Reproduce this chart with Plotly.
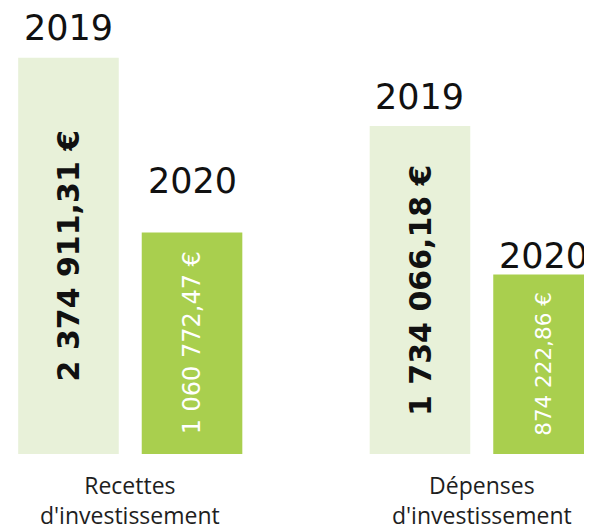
import numpy as np
import plotly.graph_objects as go

# ---- data ----
categories = ["Recettes<br>d'investissement", "Dépenses<br>d'investissement"]
years = ["2019", "2020"]
values_2019 = [2374911.31, 1734066.18]
values_2020 = [1060772.47, 874222.86]

# ---- styles ----
colors = {"2019": "#e8f1d9", "2020": "#a9cf4e"}
value_font = {
    "2019": dict(family="DejaVu Sans", size=[30, 30], color="#111111", weight="bold"),
    "2020": dict(family="DejaVu Sans", size=[24, 21.5], color="#ffffff", weight="normal"),
}
year_yshift = {("2019", 0): 8, ("2020", 0): 30, ("2019", 1): 7, ("2020", 1): -3}

# page body has an 8px margin: layout compensates
Y_RANGE = [5.5821, 6.4755]
X_RANGE = [-0.3478, 1.3364]
BARGAP = 0.297
BARGROUPGAP = 0.186
OFF = (1 - BARGAP) / 4


def fr(v):
    s = f"{v:,.2f}"
    return s.replace(",", " ").replace(".", ",") + " €"


series = {"2019": values_2019, "2020": values_2020}

fig = go.Figure()
for yr in years:
    fig.add_trace(go.Bar(
        x=categories, y=series[yr], name=yr,
        marker=dict(color=colors[yr], line=dict(width=0)),
        hoverinfo="skip",
    ))

annotations = []
for j, yr in enumerate(years):
    sign = -1 if j == 0 else 1
    for i, cat in enumerate(categories):
        v = series[yr][i]
        top = np.log10(v)
        xpos = i + sign * OFF
        annotations.append(dict(
            x=xpos, y=top, xref="x", yref="y", text=yr, showarrow=False,
            xanchor="center", yanchor="bottom", yshift=year_yshift[(yr, i)],
            font=dict(family="DejaVu Sans", size=35, color="#111111"),
        ))
        f = value_font[yr]
        annotations.append(dict(
            x=xpos, y=(Y_RANGE[0] + top) / 2, xref="x", yref="y",
            text=fr(v), showarrow=False, textangle=-90,
            xanchor="center", yanchor="middle",
            font=dict(family=f["family"], size=f["size"][i], color=f["color"],
                      weight=f["weight"]),
        ))

for i, cat in enumerate(categories):
    annotations.append(dict(
        x=i, y=0, xref="x", yref="paper", text=cat, showarrow=False,
        xanchor="center", yanchor="top", yshift=-13,
        font=dict(family="Open Sans", size=23, color="#1e1e1e"),
    ))

fig.update_layout(
    width=592, height=531,
    margin=dict(l=0, r=0, t=0, b=85),
    paper_bgcolor="white", plot_bgcolor="white",
    barmode="group", bargap=BARGAP, bargroupgap=BARGROUPGAP,
    showlegend=False,
    xaxis=dict(type="category", range=X_RANGE, visible=False),
    yaxis=dict(type="log", range=Y_RANGE, visible=False),
    annotations=annotations,
)

fig.write_html("out.html")
